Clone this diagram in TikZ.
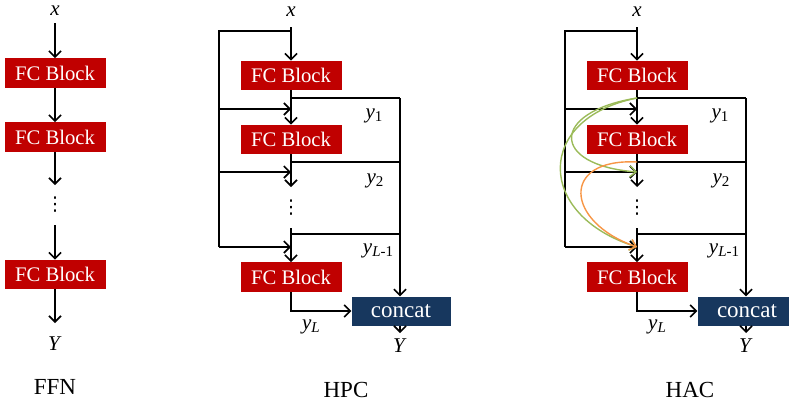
\documentclass[tikz,border=0pt]{standalone}
\usepackage{fontspec}
\setmainfont{Liberation Serif}
\newfontfamily\symfont{DejaVu Sans}
\usetikzlibrary{arrows.meta}
\definecolor{blockred}{RGB}{192,0,0}
\definecolor{concatblue}{RGB}{23,55,94}
\definecolor{curvegreen}{RGB}{155,187,89}
\definecolor{curveorange}{RGB}{247,150,70}
\tikzset{
  fcblock/.style={fill=blockred, text=white, minimum width=101pt, minimum height=29.5pt, inner sep=0pt, font=\fontsize{20.7}{24}\selectfont},
  concatbox/.style={fill=concatblue, text=white, minimum width=99pt, minimum height=29pt, inner sep=0pt, font=\fontsize{23}{26}\selectfont},
  lbl/.style={inner sep=0pt, font=\fontsize{21}{24}\selectfont},
  dotsl/.style={inner sep=0pt, font=\symfont\fontsize{19}{22}\selectfont},
  title/.style={inner sep=0pt, font=\fontsize{23}{26}\selectfont},
  wire/.style={line width=1.6pt, black},
  arr/.style={wire, -{Straight Barb[length=6pt,width=12pt,line width=1.6pt]}},
  garr/.style={line width=1.4pt, curvegreen, -{Straight Barb[length=6pt,width=11pt,line width=1.4pt]}},
  oarr/.style={line width=1.4pt, curveorange, -{Straight Barb[length=6pt,width=11pt,line width=1.4pt]}},
}
\newcommand\yl[1]{\textit{y}\raisebox{-0.3ex}{\fontsize{15}{15}\selectfont #1}}
\newcommand\hier[1]{%
  \node[lbl] (#1-x) at (291,12) {\textit{x}};
  \coordinate (#1-in) at (291,27);
  \coordinate (#1-j0) at (291,31);
  \coordinate (#1-c0) at (219,31);
  \coordinate (#1-l1) at (219,109);
  \coordinate (#1-l2) at (219,172);
  \coordinate (#1-l3) at (219,247);
  \coordinate (#1-t1) at (291,109);
  \coordinate (#1-t2) at (291,172);
  \coordinate (#1-t3) at (291,247);
  \coordinate (#1-r1) at (291,98);
  \coordinate (#1-rr1) at (400,98);
  \coordinate (#1-r2) at (291,162);
  \coordinate (#1-rr2) at (400,162);
  \coordinate (#1-r3) at (291,234);
  \coordinate (#1-rr3) at (400,234);
  \coordinate (#1-d1) at (291,187);
  \coordinate (#1-d2) at (291,228);
  \coordinate (#1-out) at (400,333);
  \node[fcblock] (#1-b1) at (291,75.5) {FC Block};
  \node[fcblock] (#1-b2) at (291,139.5) {FC Block};
  \node[fcblock] (#1-b3) at (291,277) {FC Block};
  \node[concatbox] (#1-cat) at (401,311) {concat};
  \node[dotsl] (#1-dots) at (291,208) {⋮};
  \node[lbl] (#1-y1) at (374,116) {\yl{1}};
  \node[lbl] (#1-y2) at (375,181) {\yl{2}};
  \node[lbl] (#1-yL1) at (378,251) {\yl{\textit{L}-1}};
  \node[lbl] (#1-yL) at (311,327) {\yl{\textit{L}}};
  \node[lbl] (#1-Y) at (400,346) {\textit{Y}};
  \draw[arr] (#1-in) -- (#1-b1);
  \draw[wire] (#1-j0) -- (#1-c0) -- (#1-l3);
  \draw[arr] (#1-l1) -- (#1-t1);
  \draw[arr] (#1-l2) -- (#1-t2);
  \draw[arr] (#1-l3) -- (#1-t3);
  \draw[arr] (#1-b1) -- (#1-b2);
  \draw[wire] (#1-r1) -- (#1-rr1);
  \draw[wire] (#1-r2) -- (#1-rr2);
  \draw[wire] (#1-r3) -- (#1-rr3);
  \draw[arr] (#1-rr1) -- (#1-rr1 |- #1-cat.north);
  \draw[arr] (#1-b2) -- (#1-d1);
  \draw[arr] (#1-d2) -- (#1-b3);
  \draw[arr] (#1-b3.south) |- (#1-cat.west);
  \draw[arr] (#1-cat.south -| #1-out) -- (#1-out);
}
\begin{document}
\begin{tikzpicture}[x=1pt,y=-1pt]
\clip (0,0) rectangle (789,402);
% FFN
\node[lbl] (f-x) at (55,11) {\textit{x}};
\coordinate (f-in) at (55,23);
\node[fcblock] (f-b1) at (55,73) {FC Block};
\node[fcblock] (f-b2) at (55,137) {FC Block};
\coordinate (f-d1) at (55,185);
\node[dotsl] (f-dots) at (55,205) {⋮};
\coordinate (f-d2) at (55,225);
\node[fcblock] (f-b3) at (55,274.5) {FC Block};
\coordinate (f-out) at (55,323);
\node[lbl] (f-Y) at (55,344) {\textit{Y}};
\node[title] (f-t) at (55,387) {FFN};
\draw[arr] (f-in) -- (f-b1);
\draw[arr] (f-b1) -- (f-b2);
\draw[arr] (f-b2) -- (f-d1);
\draw[arr] (f-d2) -- (f-b3);
\draw[arr] (f-b3) -- (f-out);
% HPC
\begin{scope}
\hier{p}
\end{scope}
\node[title] (p-t) at (346,390) {HPC};
% HAC
\begin{scope}[xshift=346pt]
\hier{h}
\draw[garr] (h-r1) .. controls (204,112) and (204,165) .. (h-t2);
\draw[garr] (h-r1) .. controls (189,118) and (189,215) .. (h-t3);
\draw[oarr] (h-r2) .. controls (214,158) and (219,222) .. (h-t3);
\end{scope}
\node[title] (h-t) at (690,390) {HAC};
\end{tikzpicture}
\end{document}
